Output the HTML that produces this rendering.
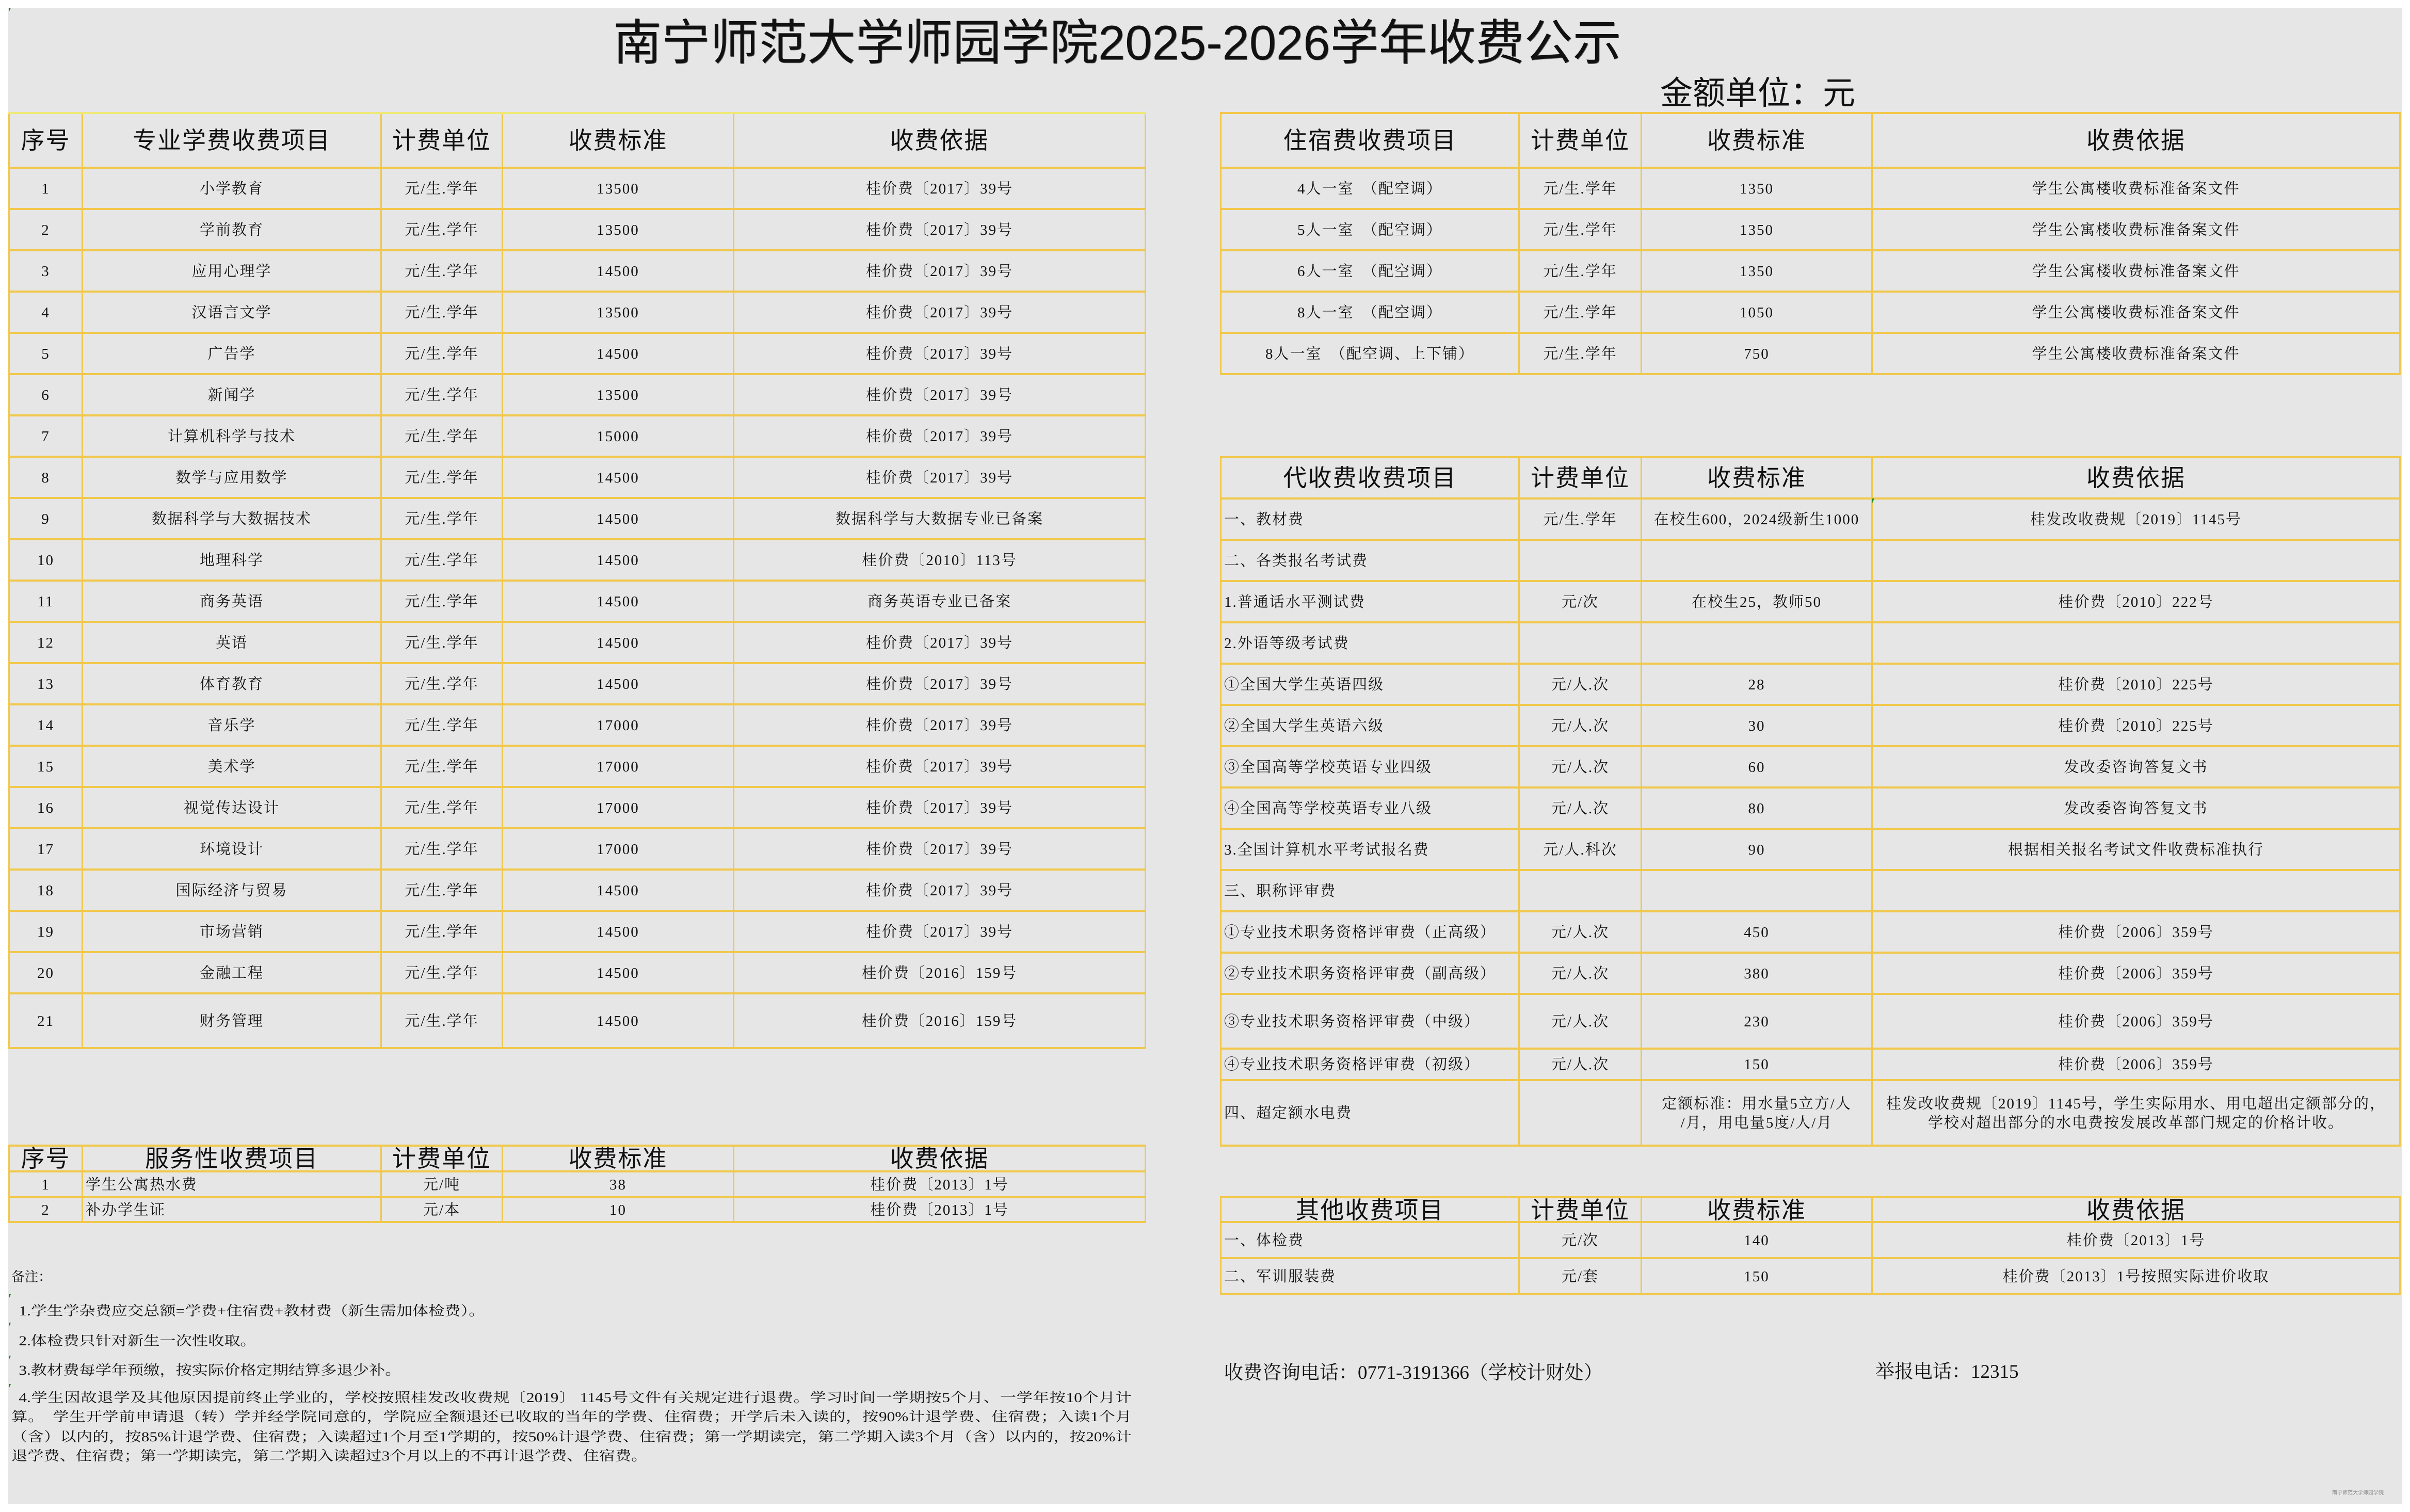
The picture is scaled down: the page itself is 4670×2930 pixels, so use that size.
<!DOCTYPE html>
<html><head><meta charset="utf-8">
<style>
*{margin:0;padding:0}
body{width:4670px;height:2930px;background:#fff;position:relative;overflow:hidden}
#bg{position:absolute;left:16px;top:15px;width:4639px;height:2900px;background:#e6e6e6}
.a{position:absolute;white-space:nowrap;color:#111}
.t{position:absolute;border-top:4px solid #f1c84b}
.r{display:grid;box-sizing:border-box;border-bottom:4px solid #f1c84b;height:80px}
.L .r{grid-template-columns:142px 579px 235px 448px 801px}
.R .r{grid-template-columns:578px 237px 447px 1026px}
.r>div{display:flex;align-items:center;justify-content:center;text-align:center;border-left:3px solid #f1c84b;white-space:nowrap;font-family:"Liberation Serif","Noto Serif CJK SC",serif;font-size:29px;letter-spacing:2px;line-height:37px;color:#111;overflow:visible;padding-top:2px}
.r>div:last-child{border-right:3px solid #f1c84b}
.hd>div{font-family:"Liberation Sans","Noto Sans CJK SC",sans-serif;font-size:46px;line-height:1;letter-spacing:2px;padding-top:0}
.r>div.lf{justify-content:flex-start;padding-left:5px;text-align:left}
.g{position:absolute;width:0;height:0;border-top:9px solid #1a8a1a;border-right:4px solid transparent}
.serif{font-family:"Liberation Serif","Noto Serif CJK SC",serif}
.sans{font-family:"Liberation Sans","Noto Sans CJK SC",sans-serif}
</style></head><body>
<div id="bg"></div>
<div class="g" style="left:17px;top:15px"></div>

<div class="a sans" style="left:1188px;top:36px;font-size:94px;line-height:1;text-shadow:1px 1px 0 #666">南宁师范大学师园学院2025-2026学年收费公示</div>
<div class="a sans" style="left:3217px;top:150px;font-size:63px;line-height:1">金额单位：元</div>

<!-- Left main table -->
<div class="t L" style="left:16px;top:217px;width:2205px;border-top-color:#efe978">
<div class="r hd" style="height:106px"><div>序号</div><div>专业学费收费项目</div><div>计费单位</div><div>收费标准</div><div>收费依据</div></div>
<div class="r"><div>1</div><div>小学教育</div><div>元/生.学年</div><div>13500</div><div>桂价费〔2017〕39号</div></div>
<div class="r"><div>2</div><div>学前教育</div><div>元/生.学年</div><div>13500</div><div>桂价费〔2017〕39号</div></div>
<div class="r"><div>3</div><div>应用心理学</div><div>元/生.学年</div><div>14500</div><div>桂价费〔2017〕39号</div></div>
<div class="r"><div>4</div><div>汉语言文学</div><div>元/生.学年</div><div>13500</div><div>桂价费〔2017〕39号</div></div>
<div class="r"><div>5</div><div>广告学</div><div>元/生.学年</div><div>14500</div><div>桂价费〔2017〕39号</div></div>
<div class="r"><div>6</div><div>新闻学</div><div>元/生.学年</div><div>13500</div><div>桂价费〔2017〕39号</div></div>
<div class="r"><div>7</div><div>计算机科学与技术</div><div>元/生.学年</div><div>15000</div><div>桂价费〔2017〕39号</div></div>
<div class="r"><div>8</div><div>数学与应用数学</div><div>元/生.学年</div><div>14500</div><div>桂价费〔2017〕39号</div></div>
<div class="r"><div>9</div><div>数据科学与大数据技术</div><div>元/生.学年</div><div>14500</div><div>数据科学与大数据专业已备案</div></div>
<div class="r"><div>10</div><div>地理科学</div><div>元/生.学年</div><div>14500</div><div>桂价费〔2010〕113号</div></div>
<div class="r"><div>11</div><div>商务英语</div><div>元/生.学年</div><div>14500</div><div>商务英语专业已备案</div></div>
<div class="r"><div>12</div><div>英语</div><div>元/生.学年</div><div>14500</div><div>桂价费〔2017〕39号</div></div>
<div class="r"><div>13</div><div>体育教育</div><div>元/生.学年</div><div>14500</div><div>桂价费〔2017〕39号</div></div>
<div class="r"><div>14</div><div>音乐学</div><div>元/生.学年</div><div>17000</div><div>桂价费〔2017〕39号</div></div>
<div class="r"><div>15</div><div>美术学</div><div>元/生.学年</div><div>17000</div><div>桂价费〔2017〕39号</div></div>
<div class="r"><div>16</div><div>视觉传达设计</div><div>元/生.学年</div><div>17000</div><div>桂价费〔2017〕39号</div></div>
<div class="r"><div>17</div><div>环境设计</div><div>元/生.学年</div><div>17000</div><div>桂价费〔2017〕39号</div></div>
<div class="r"><div>18</div><div>国际经济与贸易</div><div>元/生.学年</div><div>14500</div><div>桂价费〔2017〕39号</div></div>
<div class="r"><div>19</div><div>市场营销</div><div>元/生.学年</div><div>14500</div><div>桂价费〔2017〕39号</div></div>
<div class="r"><div>20</div><div>金融工程</div><div>元/生.学年</div><div>14500</div><div>桂价费〔2016〕159号</div></div>
<div class="r" style="height:106px"><div>21</div><div>财务管理</div><div>元/生.学年</div><div>14500</div><div>桂价费〔2016〕159号</div></div>
</div>

<!-- Service table -->
<div class="t L" style="left:16px;top:2218px;width:2205px">
<div class="r hd" style="height:50px"><div>序号</div><div>服务性收费项目</div><div>计费单位</div><div>收费标准</div><div>收费依据</div></div>
<div class="r" style="height:50px"><div>1</div><div class="lf">学生公寓热水费</div><div>元/吨</div><div>38</div><div>桂价费〔2013〕1号</div></div>
<div class="r" style="height:48px"><div>2</div><div class="lf">补办学生证</div><div>元/本</div><div>10</div><div>桂价费〔2013〕1号</div></div>
</div>

<!-- Residence table -->
<div class="t R" style="left:2364px;top:217px;width:2288px">
<div class="r hd" style="height:106px"><div>住宿费收费项目</div><div>计费单位</div><div>收费标准</div><div>收费依据</div></div>
<div class="r"><div>4人一室　（配空调）</div><div>元/生.学年</div><div>1350</div><div>学生公寓楼收费标准备案文件</div></div>
<div class="r"><div>5人一室　（配空调）</div><div>元/生.学年</div><div>1350</div><div>学生公寓楼收费标准备案文件</div></div>
<div class="r"><div>6人一室　（配空调）</div><div>元/生.学年</div><div>1350</div><div>学生公寓楼收费标准备案文件</div></div>
<div class="r"><div>8人一室　（配空调）</div><div>元/生.学年</div><div>1050</div><div>学生公寓楼收费标准备案文件</div></div>
<div class="r"><div>8人一室　（配空调、上下铺）</div><div>元/生.学年</div><div>750</div><div>学生公寓楼收费标准备案文件</div></div>
</div>

<!-- Agency fees table -->
<div class="t R" style="left:2364px;top:884px;width:2288px">
<div class="r hd"><div>代收费收费项目</div><div>计费单位</div><div>收费标准</div><div>收费依据</div></div>
<div class="r"><div class="lf">一、教材费</div><div>元/生.学年</div><div>在校生600，2024级新生1000</div><div>桂发改收费规〔2019〕1145号</div></div>
<div class="r"><div class="lf">二、各类报名考试费</div><div></div><div></div><div></div></div>
<div class="r"><div class="lf">1.普通话水平测试费</div><div>元/次</div><div>在校生25，教师50</div><div>桂价费〔2010〕222号</div></div>
<div class="r"><div class="lf">2.外语等级考试费</div><div></div><div></div><div></div></div>
<div class="r"><div class="lf">①全国大学生英语四级</div><div>元/人.次</div><div>28</div><div>桂价费〔2010〕225号</div></div>
<div class="r"><div class="lf">②全国大学生英语六级</div><div>元/人.次</div><div>30</div><div>桂价费〔2010〕225号</div></div>
<div class="r"><div class="lf">③全国高等学校英语专业四级</div><div>元/人.次</div><div>60</div><div>发改委咨询答复文书</div></div>
<div class="r"><div class="lf">④全国高等学校英语专业八级</div><div>元/人.次</div><div>80</div><div>发改委咨询答复文书</div></div>
<div class="r"><div class="lf">3.全国计算机水平考试报名费</div><div>元/人.科次</div><div>90</div><div>根据相关报名考试文件收费标准执行</div></div>
<div class="r"><div class="lf">三、职称评审费</div><div></div><div></div><div></div></div>
<div class="r"><div class="lf">①专业技术职务资格评审费（正高级）</div><div>元/人.次</div><div>450</div><div>桂价费〔2006〕359号</div></div>
<div class="r"><div class="lf">②专业技术职务资格评审费（副高级）</div><div>元/人.次</div><div>380</div><div>桂价费〔2006〕359号</div></div>
<div class="r" style="height:106px"><div class="lf">③专业技术职务资格评审费（中级）</div><div>元/人.次</div><div>230</div><div>桂价费〔2006〕359号</div></div>
<div class="r" style="height:61px"><div class="lf">④专业技术职务资格评审费（初级）</div><div>元/人.次</div><div>150</div><div>桂价费〔2006〕359号</div></div>
<div class="r" style="height:127px"><div class="lf">四、超定额水电费</div><div></div><div>定额标准：用水量5立方/人<br>/月，用电量5度/人/月</div><div>桂发改收费规〔2019〕1145号，学生实际用水、用电超出定额部分的，<br>学校对超出部分的水电费按发展改革部门规定的价格计收。</div></div>
</div>
<div class="g" style="left:3628px;top:966px"></div>

<!-- Other fees table -->
<div class="t R" style="left:2364px;top:2318px;width:2288px">
<div class="r hd" style="height:48px"><div>其他收费项目</div><div>计费单位</div><div>收费标准</div><div>收费依据</div></div>
<div class="r" style="height:70px"><div class="lf">一、体检费</div><div>元/次</div><div>140</div><div>桂价费〔2013〕1号</div></div>
<div class="r" style="height:70px"><div class="lf">二、军训服装费</div><div>元/套</div><div>150</div><div>桂价费〔2013〕1号按照实际进价收取</div></div>
</div>

<!-- Contact -->
<div class="a serif" style="left:2372px;top:2642px;font-size:37px;line-height:1">收费咨询电话：0771-3191366（学校计财处）</div>
<div class="a serif" style="left:3634px;top:2640px;font-size:37px;line-height:1">举报电话：12315</div>
<div class="a sans" style="left:4519px;top:2889px;font-size:10px;line-height:1;color:#8a8a8a">南宁师范大学师园学院</div>

<!-- Notes -->
<div class="a serif" style="left:22px;top:2462px;font-size:26px;line-height:1">备注：</div>
<div class="g" style="left:17px;top:2508px"></div>
<div class="g" style="left:17px;top:2563px"></div>
<div class="g" style="left:17px;top:2627px"></div>
<div class="g" style="left:17px;top:2682px"></div>
<div class="a serif" style="left:22px;top:0;transform:scaleX(1.2);transform-origin:0 0;font-size:26px;line-height:1">
<div class="a" style="left:12px;top:2528px">1.学生学杂费应交总额=学费+住宿费+教材费（新生需加体检费）。</div>
<div class="a" style="left:12px;top:2586px">2.体检费只针对新生一次性收取。</div>
<div class="a" style="left:12px;top:2643px">3.教材费每学年预缴，按实际价格定期结算多退少补。</div>
<div class="a" style="left:12px;top:2696px;width:1797px;white-space:normal;text-align:justify;text-align-last:justify">4.学生因故退学及其他原因提前终止学业的，学校按照桂发改收费规〔2019〕 1145号文件有关规定进行退费。学习时间一学期按5个月、一学年按10个月计</div>
<div class="a" style="left:0;top:2733px;width:1809px;white-space:normal;text-align:justify;text-align-last:justify">算。　学生开学前申请退（转）学并经学院同意的，学院应全额退还已收取的当年的学费、住宿费；开学后未入读的，按90%计退学费、住宿费；入读1个月</div>
<div class="a" style="left:0;top:2772px;width:1809px;white-space:normal;text-align:justify;text-align-last:justify">（含）以内的，按85%计退学费、住宿费；入读超过1个月至1学期的，按50%计退学费、住宿费；第一学期读完，第二学期入读3个月（含）以内的，按20%计</div>
<div class="a" style="left:0;top:2809px">退学费、住宿费；第一学期读完，第二学期入读超过3个月以上的不再计退学费、住宿费。</div>
</div>
</body></html>
